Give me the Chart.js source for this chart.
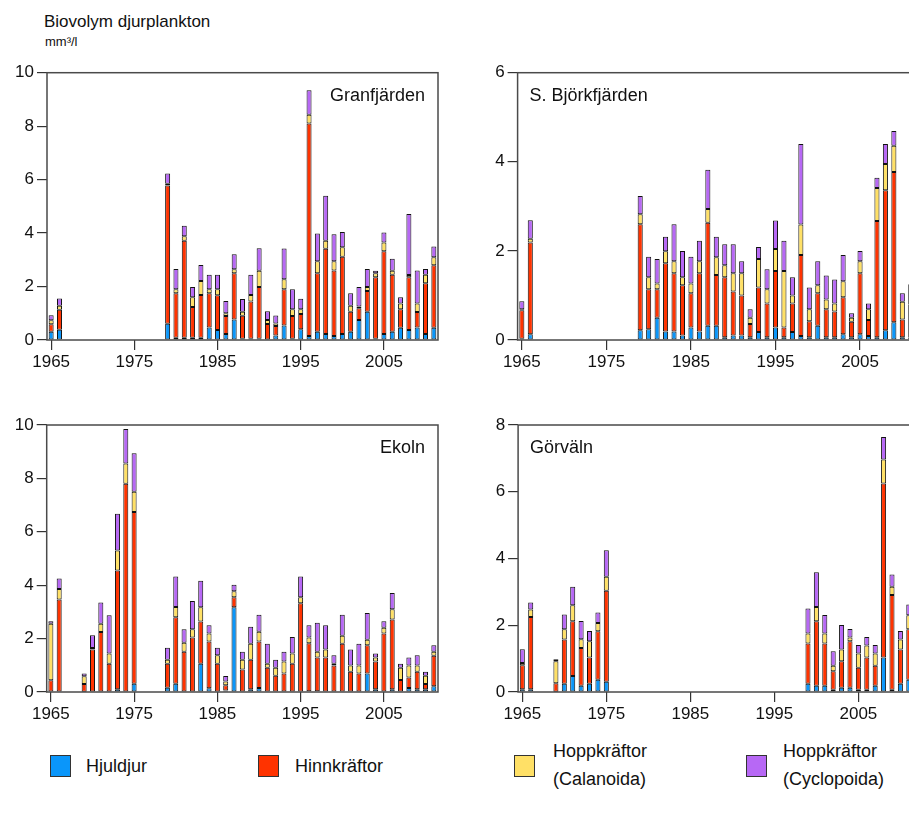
<!DOCTYPE html>
<html><head><meta charset="utf-8">
<script src="https://cdn.jsdelivr.net/npm/chart.js@4.4.1/dist/chart.umd.min.js"></script>
<style>
html,body{margin:0;padding:0;background:#fff;overflow:hidden;width:909px;height:813px;}
body{position:relative;font-family:"Liberation Sans",Arial,sans-serif;color:#111;}
canvas{position:absolute;}
.t{position:absolute;line-height:1;white-space:nowrap;}
.box{position:absolute;width:21px;height:22px;border:1px solid #333;box-sizing:border-box;}
</style></head><body>
<div class="t" style="left:44px;top:13px;font-size:17px;">Biovolym djurplankton</div>
<div class="t" style="left:45px;top:35px;font-size:13px;">mm³/l</div>
<canvas id="c1" width="450" height="330" style="left:0;top:50px;"></canvas>
<canvas id="c2" width="460" height="330" style="left:470px;top:50px;"></canvas>
<canvas id="c3" width="450" height="330" style="left:0;top:402px;"></canvas>
<canvas id="c4" width="460" height="330" style="left:470px;top:402px;"></canvas>
<div id="legend"></div>
<script>
const _ = null;
const years = [];
for (let y = 1965; y <= 2011; y++) years.push(y);
const shownYears = [1965, 1975, 1985, 1995, 2005];
const seriesNames = ["Hjuldjur", "Hinnkräftor", "Hoppkräftor\n(Calanoida)", "Hoppkräftor\n(Cyclopoida)"];
const seriesColors = ["#0a96fa", "#ff3300", "#ffe066", "#b768f5"];

// Granfjärden (1965-2011)
const granHjuldjur = [0.31,0.38,_,_,_,_,_,_,_,_,_,_,_,_,0.61,0.08,0.08,0.08,0.08,0.47,0.37,0.22,0.77,0.05,0.05,0.05,0.02,0.17,0.54,0.05,0.4,0.15,0.31,0.22,0.15,0.22,0.31,0.75,1.06,0.05,0.22,0.31,0.46,0.37,0.47,0.22,0.46];
const granHinn = [0.28,0.75,_,_,_,_,_,_,_,_,_,_,_,_,5.17,1.67,3.63,1.15,1.6,1.28,1.3,0.68,1.73,0.86,1.39,1.93,0.58,0.35,1.36,0.85,0.57,7.95,2.19,3.19,2.45,2.89,0.75,0.44,0.77,2.3,3.1,2.13,0.69,1.98,0.58,1.9,2.34];
const granCalan = [0.15,0.15,_,_,_,_,_,_,_,_,_,_,_,_,0.07,0.15,0.17,0.37,0.53,0.15,0.23,0.1,0.15,0.15,0.24,0.61,0.15,0.1,0.37,0.25,0.18,0.33,0.45,0.3,0.35,0.36,0.22,0.06,0.15,0.15,0.33,0.15,0.22,0.08,0.32,0.32,0.3];
const granCyclo = [0.19,0.27,_,_,_,_,_,_,_,_,_,_,_,_,0.38,0.76,0.39,0.38,0.6,0.54,0.54,0.46,0.56,0.47,0.76,0.84,0.33,0.3,1.15,0.75,0.39,0.91,1.03,1.69,1.01,0.57,0.47,0.73,0.68,0.09,0.37,0.45,0.23,2.28,1.23,0.22,0.4];

// S. Björkfjärden
const bjorkHjuldjur = [0.03,0.13,_,_,_,_,_,_,_,_,_,_,_,_,0.22,0.24,0.5,0.19,0.19,0.1,0.28,0.19,0.32,0.32,0.06,0.1,0.1,0.06,0.18,0.06,0.28,0.06,0.18,0.09,0.06,0.32,0.06,0.06,0.13,0.06,0.13,0.09,0.06,0.22,0.4,0.06,0.05];
const bjorkHinn = [0.64,2.06,_,_,_,_,_,_,_,_,_,_,_,_,2.38,0.9,0.64,1.53,1.31,1.13,0.77,1.31,2.31,1.14,1.35,0.99,0.9,0.3,1.0,0.76,1.27,0.22,0.64,1.82,0.36,0.73,0.63,0.58,0.83,0.35,1.37,0.36,2.61,3.14,3.37,0.4,0.75];
const bjorkCalan = [0.02,0.08,_,_,_,_,_,_,_,_,_,_,_,_,0.22,0.27,0.13,0.27,0.27,0.18,0.22,0.27,0.31,0.4,0.27,0.41,0.5,0.14,0.64,0.32,0.49,1.27,0.18,0.68,0.27,0.18,0.22,0.18,0.36,0.09,0.27,0.24,0.74,0.59,0.59,0.4,0.3];
const bjorkCyclo = [0.18,0.42,_,_,_,_,_,_,_,_,_,_,_,_,0.41,0.46,0.55,0.33,0.83,0.59,0.6,0.46,0.88,0.46,0.47,0.65,0.27,0.19,0.27,0.45,0.64,0.68,0.41,1.81,0.49,0.54,0.54,0.54,0.59,0.1,0.23,0.13,0.23,0.45,0.33,0.19,0.15];

// Ekoln
const ekolnHjuldjur = [0.02,0.02,_,_,0.01,0.02,0.02,0.02,0.1,0.02,0.31,_,_,_,0.16,0.31,0.02,0.02,1.06,0.14,0.02,0.06,3.17,0.02,0.1,0.15,0.02,0.02,0.02,0.02,0.02,0.03,0.03,0.02,0.02,0.02,0.02,0.02,0.69,0.1,0.02,0.1,0.02,0.15,0.1,0.1,0.22];
const ekolnHinn = [0.42,3.44,_,_,0.29,1.57,2.23,1.04,4.45,7.78,6.43,_,_,_,0.9,2.49,1.49,2.02,1.58,1.75,1.04,0.19,0.38,0.82,1.11,1.74,0.89,0.59,0.67,1.04,3.3,1.8,1.26,1.27,0.97,1.79,0.74,0.67,1.06,1.04,2.17,2.62,0.43,0.39,0.66,0.2,1.14];
const ekolnCalan = [2.12,0.4,_,_,0.29,0.06,0.31,0.38,0.75,0.76,0.76,_,_,_,0.15,0.38,0.33,0.31,0.53,0.3,0.32,0.14,0.22,0.37,0.6,0.37,0.15,0.3,0.45,0.38,0.23,0.21,0.22,0.3,0.07,0.3,0.23,0.3,0.21,0.15,0.22,0.38,0.46,0.45,0.23,0.31,0.15];
const ekolnCyclo = [0.09,0.39,_,_,0.1,0.48,0.79,1.43,1.38,1.29,1.44,_,_,_,0.45,1.15,0.51,1.06,1.0,0.31,0.28,0.21,0.25,0.3,0.63,0.63,0.75,0.3,0.37,0.62,0.78,0.46,1.08,0.91,0.32,0.78,0.6,0.82,1.0,0.15,0.24,0.61,0.15,0.3,0.39,0.15,0.24];

// Görväln
const gorvHjuldjur = [0.08,0.08,_,_,0.01,0.25,0.48,0.19,0.25,0.37,0.31,_,_,_,_,_,_,_,_,_,_,_,_,_,_,_,_,_,_,_,_,_,_,_,0.25,0.19,0.19,0.07,0.13,0.13,0.07,0.07,0.19,1.03,0.07,0.25,0.37];
const gorvHinn = [0.72,2.17,_,_,0.25,1.32,1.64,1.13,0.78,1.45,2.72,_,_,_,_,_,_,_,_,_,_,_,_,_,_,_,_,_,_,_,_,_,_,_,1.2,1.93,1.26,0.55,0.79,1.39,0.66,0.96,0.6,5.22,2.84,1.02,1.51];
const gorvCalan = [0.07,0.22,_,_,0.66,0.31,0.48,0.26,0.49,0.25,0.42,_,_,_,_,_,_,_,_,_,_,_,_,_,_,_,_,_,_,_,_,_,_,_,0.3,0.43,0.3,0.17,0.35,0.11,0.42,0.36,0.36,0.72,0.24,0.3,0.42];
const gorvCyclo = [0.41,0.21,_,_,0.06,0.44,0.55,0.55,0.31,0.31,0.8,_,_,_,_,_,_,_,_,_,_,_,_,_,_,_,_,_,_,_,_,_,_,_,0.75,1.04,0.56,0.43,0.74,0.26,0.26,0.26,0.26,0.67,0.37,0.26,0.32];

const FONT = '"Liberation Sans", Arial, sans-serif';
Chart.defaults.font.family = FONT;

const framePlugin = {
  id: 'frame',
  afterDraw(chart, args, opts) {
    const { ctx, chartArea: a } = chart;
    ctx.save();
    ctx.strokeStyle = '#4a4a4a';
    ctx.lineWidth = 1.5;
    ctx.strokeRect(a.left, a.top, a.right - a.left, a.bottom - a.top);
    ctx.font = '18px ' + FONT;
    ctx.fillStyle = '#111';
    ctx.textAlign = opts.align;
    ctx.textBaseline = 'alphabetic';
    const x = opts.align === 'right' ? a.right - 13 : a.left + 12;
    ctx.fillText(opts.text, x, a.top + 28);
    ctx.restore();
  }
};

function makeChart(id, series, yMax, title, align, yWidth, padTop, padRight) {
  const datasets = series.map((d, i) => ({
    label: seriesNames[i],
    data: d,
    backgroundColor: seriesColors[i],
    borderColor: '#111',
    borderWidth: 1,
    borderSkipped: false,
    categoryPercentage: 1,
    barPercentage: 0.6
  }));
  return new Chart(document.getElementById(id), {
    type: 'bar',
    data: { labels: years.map(String), datasets },
    options: {
      responsive: false,
      animation: false,
      events: [],
      layout: { padding: { top: padTop, right: padRight, bottom: 0, left: 0 } },
      plugins: { legend: { display: false }, tooltip: { enabled: false }, frame: { text: title, align } },
      scales: {
        x: {
          stacked: true,
          grid: {
            drawOnChartArea: false, offset: false, tickLength: 10, lineWidth: 1.2,
            color: c => shownYears.includes(years[c.index]) ? '#333' : 'rgba(0,0,0,0)'
          },
          border: { display: false },
          ticks: {
            autoSkip: false, maxRotation: 0, minRotation: 0, padding: 2,
            font: { size: 17 }, color: '#111',
            callback: (v, i) => shownYears.includes(years[i]) ? String(years[i]) : ''
          },
          afterFit(s) { s.height = 40; }
        },
        y: {
          stacked: true, min: 0, max: yMax,
          ticks: { stepSize: 2, padding: 3, font: { size: 17 }, color: '#111' },
          grid: { drawOnChartArea: false, tickLength: 10, color: '#333', lineWidth: 1.2 },
          border: { display: false },
          afterFit(s) { s.width = yWidth; }
        }
      }
    },
    plugins: [framePlugin]
  });
}

makeChart('c1', [granHjuldjur, granHinn, granCalan, granCyclo], 10, 'Granfjärden', 'right', 47, 22.7, 12);
makeChart('c2', [bjorkHjuldjur, bjorkHinn, bjorkCalan, bjorkCyclo], 6, 'S. Björkfjärden', 'left', 47.6, 22.7, 15);
makeChart('c3', [ekolnHjuldjur, ekolnHinn, ekolnCalan, ekolnCyclo], 10, 'Ekoln', 'right', 46.7, 23, 12);
makeChart('c4', [gorvHjuldjur, gorvHinn, gorvCalan, gorvCyclo], 8, 'Görväln', 'left', 48.1, 23, 17);

// legend (HTML)
const legendX = [[50, 86], [258, 295], [514, 553], [746, 783]];
const leg = document.getElementById('legend');
seriesNames.forEach((name, i) => {
  const b = document.createElement('div');
  b.className = 'box';
  b.style.left = legendX[i][0] + 'px';
  b.style.top = '755px';
  b.style.background = seriesColors[i];
  leg.appendChild(b);
  const lines = name.split('\n');
  lines.forEach((ln, j) => {
    const t = document.createElement('div');
    t.className = 't';
    t.style.fontSize = '18px';
    t.style.left = legendX[i][1] + 'px';
    t.style.top = (lines.length === 1 ? 757 : 742 + j * 28) + 'px';
    t.textContent = ln;
    leg.appendChild(t);
  });
});
</script>
</body></html>
